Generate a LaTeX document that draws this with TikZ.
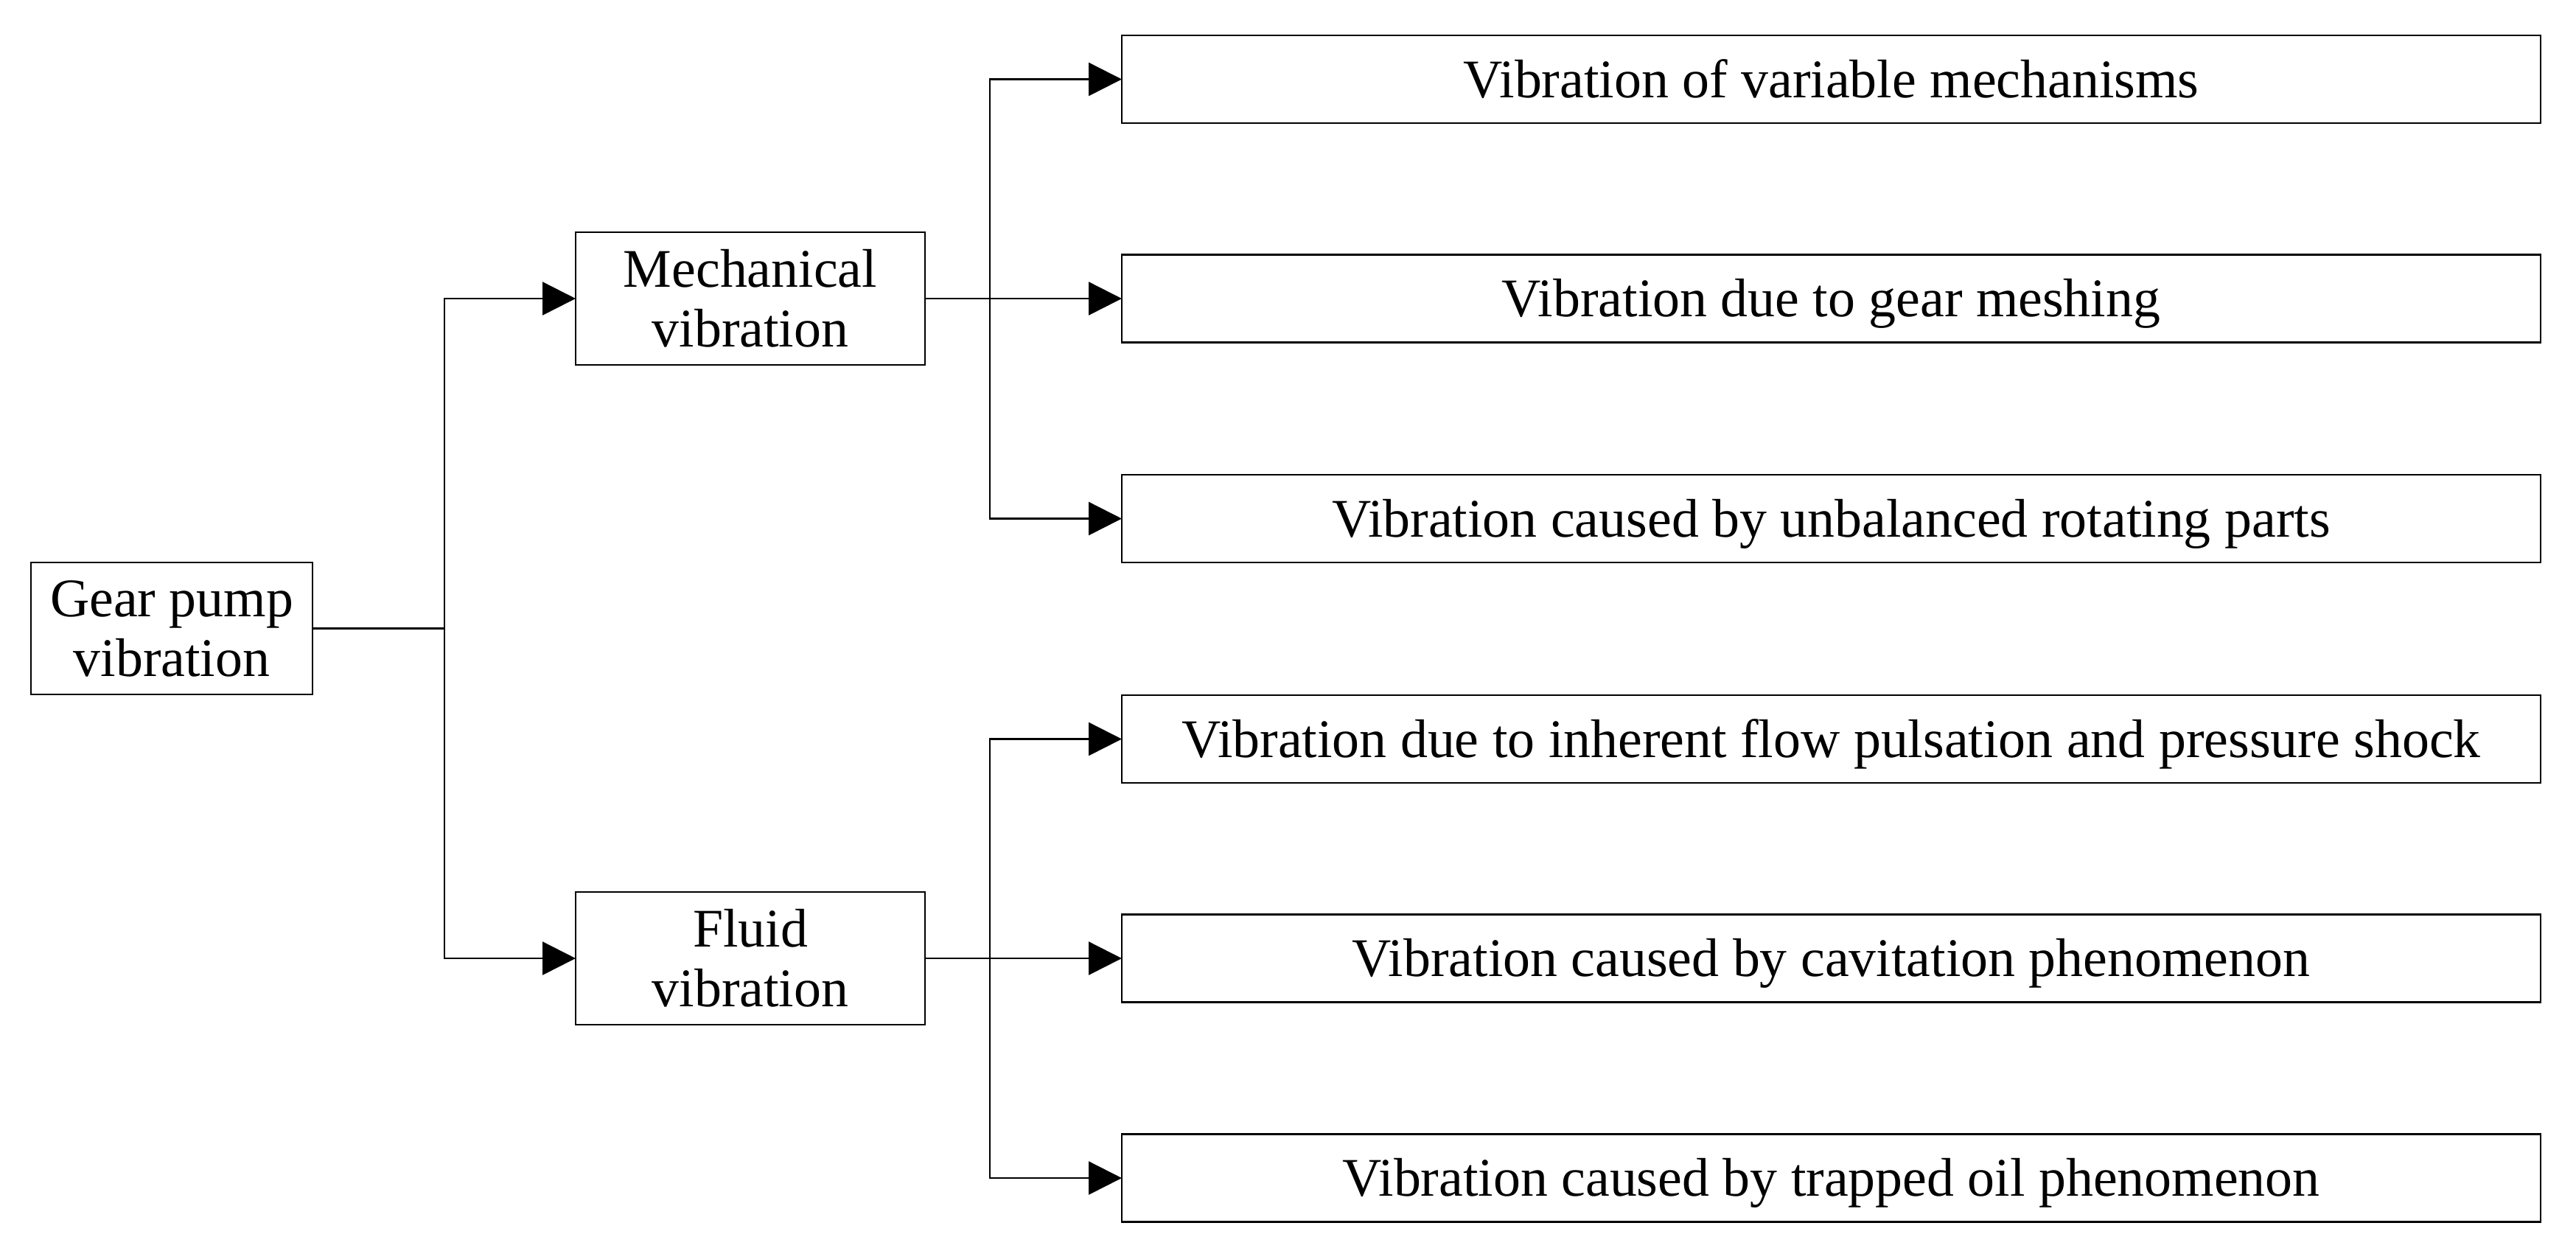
\documentclass[tikz,border=0pt]{standalone}
\usepackage{fontspec}
\setmainfont{Liberation Serif}
\usetikzlibrary{arrows.meta}
\begin{document}
\begin{tikzpicture}[
  every node/.style={font=\fontsize{21pt}{23pt}\selectfont},
  box/.style={draw, line width=0.7pt, inner sep=0pt, outer sep=0pt, align=center},
  leftbox/.style={box, minimum width=4.74cm, minimum height=1.80cm},
  rootbox/.style={box, minimum width=3.82cm, minimum height=1.79cm},
  leafbox/.style={box, minimum width=19.25cm, minimum height=1.19cm, text height=0.49cm, text depth=0pt},
  conn/.style={line width=0.7pt},
  arr/.style={conn, -{Triangle[length=0.45cm, width=0.45cm]}}
]
\useasboundingbox (0,0) rectangle (34.95,-16.96);

\node[rootbox] (gear) at (2.33,-8.525) {Gear pump\\vibration};
\node[leftbox] (mech) at (10.18,-4.05) {Mechanical\\vibration};
\node[leftbox] (fluid) at (10.18,-13.00) {Fluid\\vibration};

\node[leafbox] (r1) at (24.845,-1.075) {Vibration of variable mechanisms};
\node[leafbox] (r2) at (24.845,-4.05) {Vibration due to gear meshing};
\node[leafbox] (r3) at (24.845,-7.035) {Vibration caused by unbalanced rotating parts};
\node[leafbox] (r4) at (24.845,-10.025) {Vibration due to inherent flow pulsation and pressure shock};
\node[leafbox] (r5) at (24.845,-13.00) {Vibration caused by cavitation phenomenon};
\node[leafbox] (r6) at (24.845,-15.98) {Vibration caused by trapped oil phenomenon};

\coordinate (j1) at (6.03,-8.525);
\coordinate (j2) at (13.43,-4.05);
\coordinate (j3) at (13.43,-13.00);

\draw[conn] (gear.east) -- (j1);
\draw[arr] (j1) |- (mech.west);
\draw[arr] (j1) |- (fluid.west);

\draw[arr] (mech.east) -- (r2.west);
\draw[arr] (j2) |- (r1.west);
\draw[arr] (j2) |- (r3.west);

\draw[arr] (fluid.east) -- (r5.west);
\draw[arr] (j3) |- (r4.west);
\draw[arr] (j3) |- (r6.west);
\end{tikzpicture}
\end{document}
